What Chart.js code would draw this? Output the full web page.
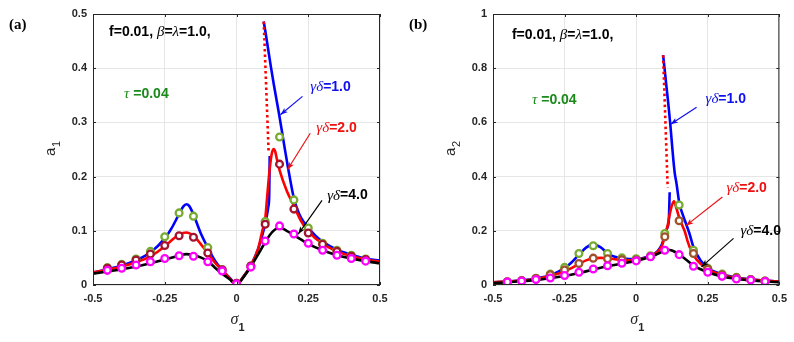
<!DOCTYPE html>
<html>
<head>
<meta charset="utf-8">
<script src="https://cdn.jsdelivr.net/npm/chart.js@4.4.1/dist/chart.umd.min.js"></script>
<style>
  body { margin: 0; background: #fff; }
  #wrap { position: relative; width: 794px; height: 342px; }
  canvas { position: absolute; top: 0; }
</style>
</head>
<body>
<div id="wrap">
  <canvas id="chartA" width="397" height="342" style="left:0"></canvas>
  <canvas id="chartB" width="397" height="342" style="left:397px"></canvas>
</div>
<script>
// ---- axis ticks ----
const xTicks = [-0.5, -0.25, 0, 0.25, 0.5];
const xTickLabels = ["-0.5", "-0.25", "0", "0.25", "0.5"];
const yTicksA = [0, 0.1, 0.2, 0.3, 0.4, 0.5];
const yTickLabelsA = ["0", "0.1", "0.2", "0.3", "0.4", "0.5"];
const yTicksB = [0, 0.2, 0.4, 0.6, 0.8, 1];
const yTickLabelsB = ["0", "0.2", "0.4", "0.6", "0.8", "1"];

// ---- symbols (numerical solution), shared sigma grid ----
const sigmaMarks = [-0.45, -0.4, -0.35, -0.3, -0.25, -0.2, -0.15, -0.1, -0.05, 0, 0.05, 0.1, 0.15, 0.2, 0.25, 0.3, 0.35, 0.4, 0.45];

// ---- panel (a): a1 ----
const a1Green = [0.032, 0.038, 0.048, 0.062, 0.089, 0.133, 0.127, 0.069, 0.028, 0.003, 0.035, 0.117, 0.273, 0.157, 0.105, 0.077, 0.064, 0.055, 0.048];
const a1Brown = [0.031, 0.037, 0.046, 0.057, 0.073, 0.091, 0.088, 0.059, 0.028, 0.003, 0.035, 0.112, 0.223, 0.140, 0.096, 0.075, 0.062, 0.053, 0.047];
const a1Pink = [0.027, 0.031, 0.037, 0.043, 0.049, 0.054, 0.053, 0.043, 0.026, 0.002, 0.033, 0.081, 0.109, 0.094, 0.077, 0.064, 0.055, 0.049, 0.044];

const sigmaA1BlueLow = [-0.5, -0.45, -0.4, -0.35, -0.3, -0.25, -0.225, -0.2, -0.185, -0.175, -0.165, -0.15, -0.125, -0.1, -0.075, -0.05, -0.025, 0, 0.025, 0.05, 0.075, 0.09, 0.1, 0.106, 0.111, 0.114, 0.1157];
const a1BlueLow = [0.023, 0.029, 0.036, 0.046, 0.06, 0.086, 0.106, 0.131, 0.145, 0.149, 0.146, 0.13, 0.096, 0.069, 0.045, 0.028, 0.014, 0.002, 0.016, 0.036, 0.066, 0.092, 0.113, 0.128, 0.145, 0.165, 0.238];
const sigmaA1BlueUp = [0.0948, 0.1, 0.11, 0.12, 0.13, 0.14, 0.15, 0.16, 0.17, 0.18, 0.19, 0.2, 0.21, 0.225, 0.25, 0.275, 0.3, 0.35, 0.4, 0.45, 0.5];
const a1BlueUp = [0.486, 0.47, 0.436, 0.402, 0.37, 0.34, 0.31, 0.278, 0.246, 0.215, 0.186, 0.16, 0.142, 0.124, 0.106, 0.091, 0.08, 0.065, 0.056, 0.049, 0.045];
const sigmaA1Dotted = [0.0948, 0.112];
const a1Dotted = [0.486, 0.244];
const sigmaA1Red = [-0.5, -0.45, -0.4, -0.35, -0.3, -0.25, -0.225, -0.2, -0.175, -0.15, -0.125, -0.1, -0.075, -0.05, -0.025, 0, 0.025, 0.05, 0.075, 0.09, 0.1, 0.107, 0.113, 0.118, 0.124, 0.13, 0.135, 0.14, 0.15, 0.175, 0.2, 0.225, 0.25, 0.3, 0.35, 0.4, 0.45, 0.5];
const a1Red = [0.023, 0.028, 0.034, 0.042, 0.053, 0.071, 0.083, 0.093, 0.097, 0.091, 0.076, 0.059, 0.041, 0.027, 0.013, 0.002, 0.016, 0.036, 0.066, 0.1, 0.122, 0.164, 0.2, 0.225, 0.245, 0.251, 0.246, 0.234, 0.212, 0.174, 0.146, 0.118, 0.099, 0.076, 0.062, 0.053, 0.047, 0.043];
const sigmaA1Black = [-0.5, -0.45, -0.4, -0.35, -0.3, -0.25, -0.2, -0.175, -0.15, -0.125, -0.1, -0.075, -0.05, -0.025, 0, 0.025, 0.05, 0.075, 0.1, 0.125, 0.15, 0.175, 0.2, 0.25, 0.3, 0.35, 0.4, 0.45, 0.5];
const a1Black = [0.021, 0.025, 0.029, 0.034, 0.04, 0.047, 0.054, 0.057, 0.055, 0.051, 0.044, 0.032, 0.021, 0.011, 0.001, 0.015, 0.034, 0.056, 0.079, 0.098, 0.106, 0.1, 0.092, 0.076, 0.064, 0.055, 0.049, 0.044, 0.04];

// ---- panel (b): a2 ----
const a2Green = [0.012, 0.016, 0.024, 0.04, 0.065, 0.116, 0.145, 0.116, 0.1, 0.097, 0.108, 0.19, 0.295, 0.128, 0.062, 0.04, 0.028, 0.02, 0.015];
const a2Brown = [0.012, 0.016, 0.025, 0.038, 0.055, 0.079, 0.099, 0.097, 0.093, 0.092, 0.105, 0.178, 0.237, 0.116, 0.058, 0.038, 0.027, 0.02, 0.015];
const a2Pink = [0.011, 0.015, 0.02, 0.026, 0.035, 0.047, 0.059, 0.071, 0.08, 0.089, 0.104, 0.128, 0.112, 0.069, 0.047, 0.032, 0.022, 0.018, 0.013];

const sigmaA2BlueLow = [-0.5, -0.45, -0.4, -0.35, -0.3, -0.25, -0.225, -0.2, -0.175, -0.15, -0.125, -0.1, -0.075, -0.05, -0.025, 0, 0.025, 0.05, 0.075, 0.09, 0.1, 0.108, 0.114, 0.117];
const a2BlueLow = [0.01, 0.013, 0.017, 0.024, 0.036, 0.062, 0.084, 0.112, 0.138, 0.15, 0.14, 0.117, 0.104, 0.099, 0.096, 0.096, 0.1, 0.108, 0.125, 0.15, 0.185, 0.21, 0.24, 0.342];
const sigmaA2BlueUp = [0.094, 0.1, 0.107, 0.113, 0.119, 0.125, 0.13, 0.135, 0.14, 0.151, 0.16, 0.17, 0.186, 0.2, 0.225, 0.25, 0.3, 0.35, 0.4, 0.45, 0.5];
const a2BlueUp = [0.848, 0.79, 0.72, 0.66, 0.595, 0.52, 0.46, 0.41, 0.38, 0.3, 0.268, 0.238, 0.19, 0.14, 0.09, 0.063, 0.04, 0.028, 0.021, 0.016, 0.013];
const sigmaA2Dotted = [0.094, 0.11];
const a2Dotted = [0.848, 0.36];
const sigmaA2Red = [-0.5, -0.45, -0.4, -0.35, -0.3, -0.25, -0.2, -0.175, -0.15, -0.125, -0.1, -0.075, -0.05, -0.025, 0, 0.025, 0.05, 0.075, 0.09, 0.1, 0.11, 0.117, 0.125, 0.132, 0.14, 0.15, 0.16, 0.169, 0.18, 0.192, 0.2, 0.225, 0.25, 0.3, 0.35, 0.4, 0.45, 0.5];
const a2Red = [0.01, 0.013, 0.016, 0.022, 0.034, 0.05, 0.077, 0.091, 0.098, 0.1, 0.099, 0.095, 0.092, 0.091, 0.092, 0.098, 0.106, 0.122, 0.145, 0.178, 0.22, 0.26, 0.295, 0.309, 0.285, 0.25, 0.222, 0.2, 0.16, 0.126, 0.11, 0.078, 0.058, 0.037, 0.026, 0.02, 0.016, 0.013];
const sigmaA2Black = [-0.5, -0.45, -0.4, -0.35, -0.3, -0.25, -0.2, -0.15, -0.1, -0.05, 0, 0.05, 0.075, 0.1, 0.11, 0.125, 0.15, 0.175, 0.2, 0.225, 0.25, 0.3, 0.35, 0.4, 0.45, 0.5];
const a2Black = [0.007, 0.01, 0.014, 0.018, 0.025, 0.033, 0.044, 0.057, 0.069, 0.079, 0.089, 0.104, 0.115, 0.127, 0.13, 0.127, 0.113, 0.093, 0.072, 0.058, 0.047, 0.031, 0.022, 0.017, 0.013, 0.01];

// ---- styling ----
const BOLD = 'bold 14px "Liberation Sans", Arial, sans-serif';
const GREEK = 'italic 15px "Liberation Serif", "Times New Roman", serif';
const TICK_FONT = { family: '"Liberation Sans", Arial, sans-serif', size: 11, weight: 'bold' };

function pts(xs, ys) {
    return xs.map((x, i) => ({ x: x, y: ys[i] }));
}

function curve(xs, ys, color, order) {
    return {
        data: pts(xs, ys), borderColor: color, borderWidth: 2.6,
        pointRadius: 0, cubicInterpolationMode: 'monotone', order: order
    };
}

function dotted(xs, ys) {
    return {
        data: pts(xs, ys), borderColor: '#ff0000', borderWidth: 2.6,
        borderDash: [2.5, 3], pointRadius: 0, order: 5
    };
}

function marks(ys, color, order) {
    return {
        data: pts(sigmaMarks, ys), showLine: false, pointRadius: 3.4,
        pointBorderWidth: 2.3, pointBorderColor: color,
        pointBackgroundColor: '#ffffff', order: order
    };
}

// text made of runs of different fonts, left aligned, vertically centred
function drawRuns(ctx, x, y, runs, color) {
    ctx.textBaseline = 'middle';
    ctx.textAlign = 'left';
    ctx.fillStyle = color;
    runs.forEach(r => {
        ctx.font = r[1];
        ctx.fillText(r[0], x, y);
        x += ctx.measureText(r[0]).width;
    });
}

function drawArrow(ctx, x1, y1, x2, y2, color) {
    ctx.strokeStyle = color;
    ctx.fillStyle = color;
    ctx.lineWidth = 1.2;
    ctx.beginPath();
    ctx.moveTo(x1, y1);
    ctx.lineTo(x2, y2);
    ctx.stroke();
    const a = Math.atan2(y2 - y1, x2 - x1);
    const len = 8, w = 0.35;
    ctx.beginPath();
    ctx.moveTo(x2, y2);
    ctx.lineTo(x2 - len * Math.cos(a - w), y2 - len * Math.sin(a - w));
    ctx.lineTo(x2 - len * 0.7 * Math.cos(a), y2 - len * 0.7 * Math.sin(a));
    ctx.lineTo(x2 - len * Math.cos(a + w), y2 - len * Math.sin(a + w));
    ctx.closePath();
    ctx.fill();
}

// frame, inner ticks, labels and arrows
const decoPlugin = {
    id: 'deco',
    afterDraw(chart, args, opts) {
        const ctx = chart.ctx;
        const area = chart.chartArea;
        const xs = chart.scales.x, ys = chart.scales.y;
        ctx.save();

        // box with inward ticks
        ctx.strokeStyle = '#262626';
        ctx.lineWidth = 1;
        ctx.strokeRect(area.left + 0.5, area.top + 0.5, area.right - area.left - 1, area.bottom - area.top - 1);
        ctx.beginPath();
        xTicks.forEach(v => {
            const px = Math.round(xs.getPixelForValue(v)) + 0.5;
            ctx.moveTo(px, area.bottom); ctx.lineTo(px, area.bottom - 3);
            ctx.moveTo(px, area.top); ctx.lineTo(px, area.top + 3);
        });
        opts.yTicks.forEach(v => {
            const py = Math.round(ys.getPixelForValue(v)) + 0.5;
            ctx.moveTo(area.left, py); ctx.lineTo(area.left + 3, py);
            ctx.moveTo(area.right, py); ctx.lineTo(area.right - 3, py);
        });
        ctx.stroke();

        // panel tag
        ctx.fillStyle = '#000';
        ctx.font = 'bold 15px "Liberation Serif", "Times New Roman", serif';
        ctx.textBaseline = 'middle';
        ctx.textAlign = 'left';
        ctx.fillText(opts.tag, area.left - 84, 25);

        // y title with subscript, rotated
        ctx.save();
        ctx.translate(area.left - 38, 152);
        ctx.rotate(-Math.PI / 2);
        ctx.fillStyle = '#262626';
        ctx.font = '15px "Liberation Sans", Arial, sans-serif';
        ctx.textBaseline = 'alphabetic';
        ctx.fillText('a', -4, 0);
        ctx.font = '11px "Liberation Sans", Arial, sans-serif';
        ctx.fillText(opts.sub, 5, 5);
        ctx.restore();

        // x title sigma_1
        const cx = (area.left + area.right) / 2;
        ctx.fillStyle = '#262626';
        ctx.textBaseline = 'alphabetic';
        ctx.font = 'italic 16px "Liberation Serif", "Times New Roman", serif';
        ctx.fillText('\u03c3', cx - 6, 324);
        ctx.font = 'bold 11px "Liberation Sans", Arial, sans-serif';
        ctx.fillText('1', cx + 2, 331);

        // texts and arrows in data coordinates
        opts.notes.forEach(n => {
            drawRuns(ctx, xs.getPixelForValue(n.x), ys.getPixelForValue(n.y), n.runs, n.color);
        });
        opts.arrows.forEach(a => {
            drawArrow(ctx, xs.getPixelForValue(a[0]), ys.getPixelForValue(a[1]),
                xs.getPixelForValue(a[2]), ys.getPixelForValue(a[3]), a[4]);
        });
        ctx.restore();
    }
};

function headRuns() {
    return [['f=0.01, ', BOLD], ['\u03b2', GREEK], ['=', BOLD], ['\u03bb', GREEK], ['=1.0,', BOLD]];
}
function gdRuns(v) {
    return [['\u03b3\u03b4', GREEK], ['=' + v, BOLD]];
}

function makeChart(id, datasets, yMax, yTicks, yLabels, yWidth, rightPad, deco) {
    new Chart(document.getElementById(id), {
        type: 'line',
        data: { datasets: datasets },
        plugins: [decoPlugin],
        options: {
            responsive: false,
            animation: false,
            layout: { padding: { top: 14, right: rightPad, left: 0, bottom: 0 } },
            plugins: { legend: { display: false }, tooltip: { enabled: false }, deco: deco },
            scales: {
                x: {
                    type: 'linear', min: -0.5, max: 0.5,
                    afterBuildTicks: s => { s.ticks = xTicks.map(v => ({ value: v })); },
                    afterFit: s => { s.height = 57; },
                    ticks: {
                        font: TICK_FONT, color: '#262626', padding: 7, maxRotation: 0,
                        callback: (v, i) => xTickLabels[i]
                    },
                    grid: { color: '#e6e6e6', drawTicks: false },
                    border: { display: false }
                },
                y: {
                    type: 'linear', min: 0, max: yMax,
                    afterBuildTicks: s => { s.ticks = yTicks.map(v => ({ value: v })); },
                    afterFit: s => { s.width = yWidth; },
                    ticks: {
                        font: TICK_FONT, color: '#262626', padding: 6,
                        callback: (v, i) => yLabels[i]
                    },
                    grid: { color: '#e6e6e6', drawTicks: false },
                    border: { display: false }
                }
            }
        }
    });
}

makeChart('chartA', [
    marks(a1Pink, '#ff00ff', 0),
    marks(a1Brown, '#a2142f', 1),
    marks(a1Green, '#77ac30', 2),
    dotted(sigmaA1Dotted, a1Dotted),
    curve(sigmaA1Black, a1Black, '#000000', 6),
    curve(sigmaA1Red, a1Red, '#ff0000', 7),
    curve(sigmaA1BlueLow, a1BlueLow, '#0000ff', 8),
    curve(sigmaA1BlueUp, a1BlueUp, '#0000ff', 8)
], 0.5, yTicksA, yTickLabelsA, 93, 17, {
    tag: '(a)', sub: '1', yTicks: yTicksA,
    notes: [
        { x: -0.444, y: 0.467, runs: headRuns(), color: '#000' },
        { x: -0.392, y: 0.352, runs: [['\u03c4', GREEK], [' =0.04', BOLD]], color: '#1a8a1a' },
        { x: 0.257, y: 0.365, runs: gdRuns('1.0'), color: '#1010ee' },
        { x: 0.278, y: 0.289, runs: gdRuns('2.0'), color: '#ee1010' },
        { x: 0.316, y: 0.165, runs: gdRuns('4.0'), color: '#000' }
    ],
    arrows: [
        [0.23, 0.348, 0.153, 0.314, '#1010ee'],
        [0.257, 0.28, 0.178, 0.213, '#ee1010'],
        [0.298, 0.156, 0.215, 0.094, '#000']
    ]
});

makeChart('chartB', [
    marks(a2Pink, '#ff00ff', 0),
    marks(a2Brown, '#a0522d', 1),
    marks(a2Green, '#77ac30', 2),
    dotted(sigmaA2Dotted, a2Dotted),
    curve(sigmaA2Black, a2Black, '#000000', 6),
    curve(sigmaA2Red, a2Red, '#ff0000', 7),
    curve(sigmaA2BlueLow, a2BlueLow, '#0000ff', 8),
    curve(sigmaA2BlueUp, a2BlueUp, '#0000ff', 8)
], 1, yTicksB, yTickLabelsB, 96, 14, {
    tag: '(b)', sub: '2', yTicks: yTicksB,
    notes: [
        { x: -0.434, y: 0.922, runs: headRuns(), color: '#000' },
        { x: -0.364, y: 0.681, runs: [['\u03c4', GREEK], [' =0.04', BOLD]], color: '#1a8a1a' },
        { x: 0.242, y: 0.685, runs: gdRuns('1.0'), color: '#1010ee' },
        { x: 0.315, y: 0.356, runs: gdRuns('2.0'), color: '#ee1010' },
        { x: 0.364, y: 0.2, runs: gdRuns('4.0'), color: '#000' }
    ],
    arrows: [
        [0.211, 0.656, 0.12, 0.593, '#1010ee'],
        [0.301, 0.325, 0.174, 0.219, '#ee1010'],
        [0.34, 0.172, 0.228, 0.067, '#000']
    ]
});
</script>
</body>
</html>
